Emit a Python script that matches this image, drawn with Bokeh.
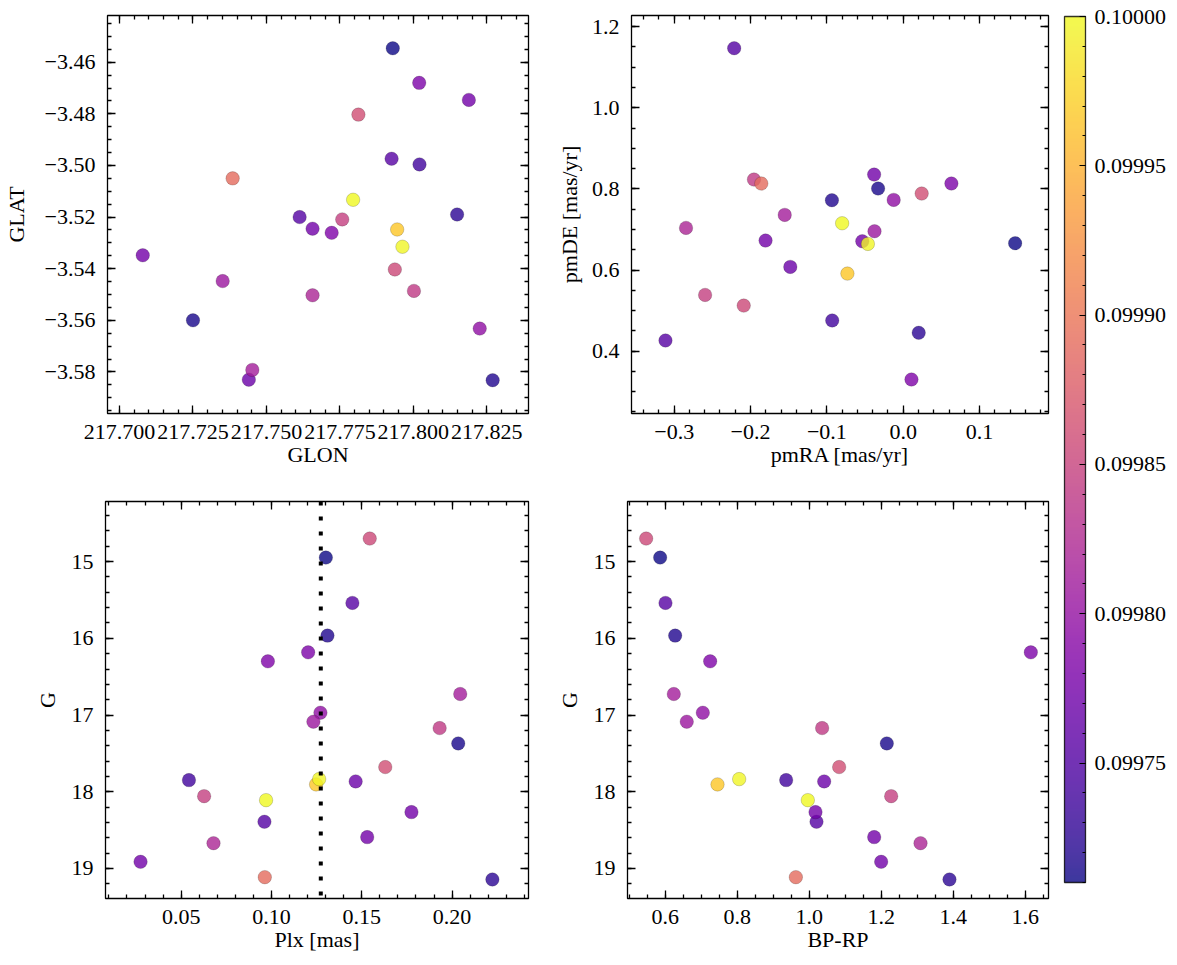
import numpy as np
from bokeh.plotting import figure
from bokeh.models import (Range1d, LinearAxis, FixedTicker, CustomJSTickFormatter,
                          PrintfTickFormatter, LinearColorMapper, ColorBar, Span, ColumnDataSource,
                          CustomLabelingPolicy)
from bokeh.layouts import row, column
from bokeh.palettes import Plasma256
from bokeh.embed import file_html
from bokeh.resources import INLINE

# ---------------- data (one entry per star) ----------------
glon = [217.7930, 217.7250, 217.8270, 217.8149, 217.8021, 217.7926, 217.7613, 217.7440, 217.7079,
        217.8189, 217.7657, 217.7722, 217.8020, 217.8226, 217.7351, 217.7452, 217.7657, 217.8002,
        217.7758, 217.7937, 217.7813, 217.7385, 217.7945, 217.7963, 217.7795]
glat = [-3.4546, -3.5600, -3.5832, -3.5190, -3.4996, -3.4974, -3.5200, -3.5830, -3.5348,
        -3.4746, -3.5245, -3.5261, -3.4680, -3.5632, -3.5448, -3.5792, -3.5503, -3.5486,
        -3.5209, -3.5403, -3.4803, -3.5050, -3.5248, -3.5315, -3.5133]
pmra = [0.1466, -0.0329, -0.0934, 0.0203, -0.0930, -0.3114, -0.2214, -0.1479, -0.1803,
        -0.0536, -0.0381, 0.0108, 0.0631, -0.0125, -0.0376, -0.1552, -0.2845, -0.1955,
        -0.2595, -0.2089, 0.0242, -0.1859, -0.0731, -0.0463, -0.0800]
pmde = [0.6660, 0.8008, 0.7721, 0.4452, 0.4756, 0.4263, 1.1468, 0.6077, 0.6726,
        0.6710, 0.8353, 0.3301, 0.8132, 0.7729, 0.6956, 0.7359, 0.7038, 0.8230,
        0.5386, 0.5123, 0.7885, 0.8132, 0.5912, 0.6644, 0.7153]
plx = [0.1301, 0.2034, 0.1310, 0.2223, 0.0543, 0.1448, 0.0961, 0.1466, 0.1775,
       0.1530, 0.0275, 0.0980, 0.1203, 0.1271, 0.1232, 0.2045, 0.0679, 0.1931,
       0.0627, 0.1544, 0.1630, 0.0963, 0.1247, 0.1264, 0.0970]
gmag = [14.948, 17.370, 15.965, 19.143, 17.848, 15.539, 18.391, 17.865, 18.265,
        18.591, 18.913, 16.300, 16.183, 16.970, 17.087, 16.726, 18.670, 17.170,
        18.057, 14.700, 17.678, 19.113, 17.904, 17.835, 18.109]
bp_rp = [0.5861, 1.2157, 0.6278, 1.3898, 0.9361, 0.6009, 1.0204, 1.0417, 1.0176,
         1.1806, 1.2000, 0.7250, 1.6157, 0.7046, 0.6600, 0.6240, 1.3093, 1.0360,
         1.2278, 0.5472, 1.0833, 0.9630, 0.7454, 0.8056, 0.9963]
prob = [0.099710, 0.099715, 0.099719, 0.099725, 0.099739, 0.099754, 0.099753, 0.099768, 0.099774,
        0.099774, 0.099773, 0.099783, 0.099782, 0.099797, 0.099806, 0.099812, 0.099820, 0.099841,
        0.099846, 0.099855, 0.099861, 0.099890, 0.099965, 0.099997, 0.100000]
plx_mean = 0.1273

# ---------------- tick labels ----------------
glon_ticks = [217.700, 217.725, 217.750, 217.775, 217.800, 217.825]
glat_ticks = [-3.58, -3.56, -3.54, -3.52, -3.50, -3.48, -3.46]
pmra_ticks = [-0.3, -0.2, -0.1, 0.0, 0.1]
pmde_ticks = [0.4, 0.6, 0.8, 1.0, 1.2]
plx_ticks = [0.05, 0.10, 0.15, 0.20]
g_ticks = [15, 16, 17, 18, 19]
bprp_ticks = [0.6, 0.8, 1.0, 1.2, 1.4, 1.6]
cbar_ticks = [0.09975, 0.09980, 0.09985, 0.09990, 0.09995, 0.10000]

FONT = "Liberation Serif"
FS = "22px"
LW = 1.3

src = ColumnDataSource(dict(glon=glon, glat=glat, pmra=pmra, pmde=pmde, plx=plx,
                            g=gmag, bprp=bp_rp, prob=prob))
mapper = LinearColorMapper(palette=Plasma256, low=min(prob), high=max(prob))


def minors(major, n, lo, hi):
    step = (major[1] - major[0]) / n
    start = major[0] - step * int((major[0] - lo) / step + 1)
    vals = np.arange(start, hi + step, step)
    return [float(v) for v in vals if lo <= v <= hi]


def fmt(dec):
    return CustomJSTickFormatter(args=dict(d=dec),
                                 code="return tick.toFixed(d).replace('-', '\u2212');")


NO_LABELS = "for (const i of Array.from(indices)) { indices.unset(i) }\nreturn indices"


def panel(xname, yname, xr, yr, xt, yt, xn, yn, xdec, ydec, xlabel, ylabel,
          width, height, borders, ylab_standoff):
    p = figure(width=width, height=height, x_range=Range1d(*xr), y_range=Range1d(*yr),
               output_backend="svg", toolbar_location=None,
               x_axis_type=None, y_axis_type=None,
               min_border_left=borders[0], min_border_right=borders[1],
               min_border_top=borders[2], min_border_bottom=borders[3])
    p.outline_line_color = "black"
    p.outline_line_width = LW
    p.outline_line_alpha = 1.0
    xlo, xhi = min(xr), max(xr)
    ylo, yhi = min(yr), max(yr)
    xtick = FixedTicker(ticks=xt, minor_ticks=minors(xt, xn, xlo, xhi))
    ytick = FixedTicker(ticks=yt, minor_ticks=minors(yt, yn, ylo, yhi))
    for loc, tk, dec, lab in [("below", xtick, xdec, xlabel), ("left", ytick, ydec, ylabel),
                              ("above", xtick, xdec, None), ("right", ytick, ydec, None)]:
        ax = LinearAxis(ticker=tk)
        ax.axis_line_color = None
        ax.major_tick_in = 8
        ax.major_tick_out = 0
        ax.minor_tick_in = 4
        ax.minor_tick_out = 0
        ax.major_tick_line_width = LW
        ax.minor_tick_line_width = LW
        ax.major_tick_line_color = "black"
        ax.minor_tick_line_color = "black"
        ax.major_label_text_font = FONT
        ax.major_label_text_font_size = FS
        ax.major_label_text_color = "black"
        if lab is None:
            # mirrored ticks only: no labels and no reserved space
            ax.formatter = CustomJSTickFormatter(code="return '';")
            ax.major_label_policy = CustomLabelingPolicy(code=NO_LABELS)
            ax.major_label_standoff = 0
        else:
            ax.formatter = fmt(dec)
            ax.axis_label = lab
            ax.axis_label_text_font = FONT
            ax.axis_label_text_font_size = FS
            ax.axis_label_text_font_style = "normal"
            ax.axis_label_text_color = "black"
            if loc == "below":
                ax.major_label_standoff = 11
                ax.axis_label_standoff = 0
            else:
                ax.major_label_standoff = 12
                ax.axis_label_standoff = ylab_standoff
        p.add_layout(ax, loc)
    p.scatter(xname, yname, source=src, size=13.5,
              fill_color={"field": "prob", "transform": mapper}, fill_alpha=0.8,
              line_color="black", line_alpha=0.35, line_width=0.5)
    return p


top_h, bot_h = 488, 477
p1 = panel("glon", "glat", (217.6959, 217.8392), (-3.5961, -3.4419), glon_ticks, glat_ticks,
           5, 4, 3, 2, "GLON", "GLAT", 553, top_h, (105, 25, 15, 75), 13)
p2 = panel("pmra", "pmde", (-0.3559, 0.1903), (0.2463, 1.2274), pmra_ticks, pmde_ticks,
           5, 4, 1, 1, "pmRA [mas/yr]", "pmDE [mas/yr]", 503, top_h, (74, 8, 15, 75), 7)
p3 = panel("plx", "g", (0.0081, 0.2423), (19.391, 14.217), plx_ticks, g_ticks,
           5, 5, 2, 0, "Plx [mas]", "G", 553, bot_h, (105, 25, 13, 67), 9)
p4 = panel("bprp", "g", (0.4954, 1.6648), (19.391, 14.217), bprp_ticks, g_ticks,
           4, 5, 1, 0, "BP-RP", "G", 503, bot_h, (74, 8, 13, 67), 9)

p3.add_layout(Span(location=plx_mean, dimension="height", line_color="black",
                   line_width=4, line_dash="4 11"))

# ---------------- colour bar ----------------
cb_fig = figure(width=121, height=top_h + bot_h, output_backend="svg", toolbar_location=None,
                x_axis_type=None, y_axis_type=None, x_range=Range1d(0, 1), y_range=Range1d(0, 1),
                min_border=0)
cb_fig.outline_line_color = None
cb_minor = [float(v) for v in np.round(np.arange(0.09971, 0.100001, 0.00001), 5)]
cbar = ColorBar(color_mapper=mapper, location=(8, 83), width=21, height=866,
                orientation="vertical", scale_alpha=0.8, padding=0, margin=0,
                ticker=FixedTicker(ticks=cbar_ticks, minor_ticks=cb_minor),
                formatter=PrintfTickFormatter(format="%.5f"),
                major_label_text_font=FONT, major_label_text_font_size=FS,
                major_label_text_color="black", label_standoff=9,
                major_tick_in=6, major_tick_out=0, minor_tick_in=3, minor_tick_out=0,
                major_tick_line_color="black", minor_tick_line_color="black",
                major_tick_line_width=1.2, minor_tick_line_width=1.0,
                bar_line_color="black", bar_line_width=LW,
                border_line_color=None, background_fill_alpha=0)
cb_fig.add_layout(cbar, "center")

layout = row(column(row(p1, p2), row(p3, p4)), cb_fig)

open("out.html", "w").write(file_html(layout, INLINE))
